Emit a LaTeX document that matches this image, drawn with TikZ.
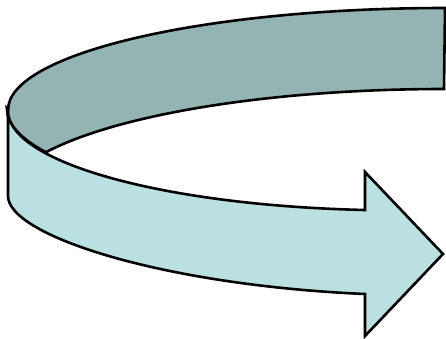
\documentclass[tikz,border=0pt]{standalone}
\definecolor{darkband}{RGB}{148,180,180}
\definecolor{lightband}{RGB}{186,224,226}
\begin{document}
\begin{tikzpicture}[x=1pt,y=-1pt,
  band/.style={draw=black, line width=2.6pt, line join=miter}]
\useasboundingbox (0,0) rectangle (446,338);
% back (inner) face of the ribbon
\path[band, fill=darkband] (8,110)
  arc[start angle=180, end angle=270, x radius=437, y radius=102]
  -- (444,89)
  arc[start angle=270, end angle=205.5, x radius=441, y radius=111]
  arc[start angle=154.2, end angle=180, x radius=392, y radius=100]
  -- cycle;
% front face with arrow head
\path[band, fill=lightband] (8,110) -- (8,196)
  .. controls (8,235) and (160,285) .. (365,294)
  -- (365,336) -- (443,254) -- (365,172) -- (365,210)
  arc[start angle=95.1, end angle=180, x radius=392, y radius=100]
  -- cycle;
\end{tikzpicture}
\end{document}
